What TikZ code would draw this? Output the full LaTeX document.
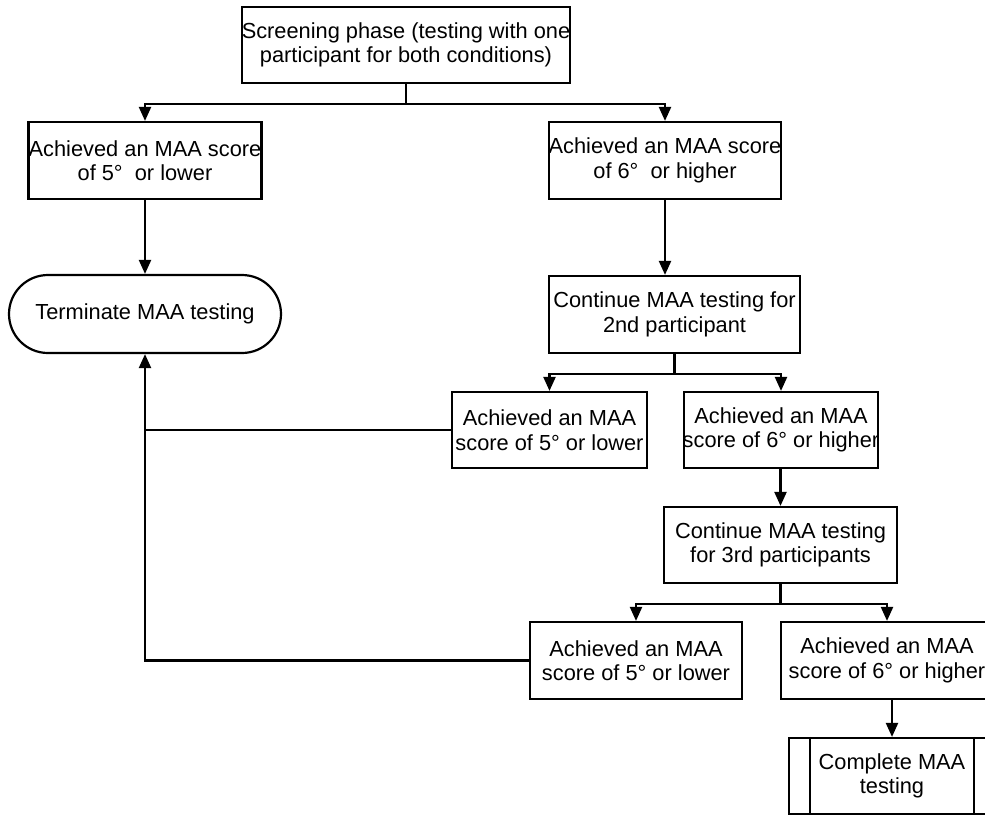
\documentclass[tikz,border=0pt]{standalone}
\usepackage{fontspec}
\setmainfont{Liberation Sans}
\usetikzlibrary{arrows.meta,shapes.misc,calc}
\begin{document}
\begin{tikzpicture}[x=1pt,y=-1pt,
  every node/.style={font=\fontsize{21.8}{24.5}\selectfont, align=center, inner sep=0pt},
  box/.style={draw, line width=2.2pt, rectangle},
  conn/.style={line width=2.2pt},
  arr/.style={conn, -{Triangle[length=14pt,width=12pt]}}]
\useasboundingbox (0,0) rectangle (985,815);
\fill[white] (0,0) rectangle (985,815);
\node[box, minimum width=328pt, minimum height=76pt] (scr) at (406,45) {Screening phase (testing with one\\participant for both conditions)};
\node[box, minimum width=233pt, minimum height=77pt] (a1) at (145,160.5) {Achieved an MAA score\\of 5°\ \ or lower};
\node[box, minimum width=232pt, minimum height=77pt] (b1) at (665,160.5) {Achieved an MAA score\\of 6°\ \ or higher};
\node[draw, line width=2.2pt, rounded rectangle, minimum width=272pt, minimum height=78pt] (term) at (145,314) {Terminate MAA testing};
\node[box, minimum width=251pt, minimum height=77pt] (c2) at (674.5,314.5) {Continue MAA testing for\\2nd participant};
\node[box, minimum width=195pt, minimum height=76pt] (a2) at (549.5,430) {Achieved an MAA\\score of 5° or lower};
\node[box, minimum width=194pt, minimum height=76pt] (b2) at (781,430) {Achieved an MAA\\\makebox[180pt][c]{score of 6° or higher}};
\node[box, minimum width=233pt, minimum height=76pt] (c3) at (780.5,545) {Continue MAA testing\\for 3rd participants};
\node[box, minimum width=212pt, minimum height=77pt] (a3) at (636,660.5) {Achieved an MAA\\score of 5° or lower};
\node[box, minimum width=212pt, minimum height=77pt] (b3) at (887,660.5) {Achieved an MAA\\score of 6° or higher};
\node[box, minimum width=206pt, minimum height=76pt] (comp) at (892,776) {Complete MAA\\testing};
\draw[conn] ($(comp.north west)+(22,0)$) -- ($(comp.south west)+(22,0)$);
\draw[conn] ($(comp.north east)+(-22,0)$) -- ($(comp.south east)+(-22,0)$);
% connectors
\draw[conn] (scr.south) -- ++(0,20) coordinate (j1);
\draw[arr] (j1) -| (a1.north);
\draw[arr] (j1) -| (b1.north);
\draw[arr] (a1.south) -- (a1.south |- term.north);
\draw[arr] (b1.south) -- (b1.south |- c2.north);
\draw[conn] (c2.south) -- ++(0,20) coordinate (j2);
\draw[arr] (j2) -| (a2.north);
\draw[arr] (j2) -| (b2.north);
\draw[arr] (c3.north |- b2.south) -- (c3.north);
\draw[conn] (c3.south) -- ++(0,20) coordinate (j3);
\draw[arr] (j3) -| (a3.north);
\draw[arr] (j3) -| (b3.north);
\draw[arr] (comp.north |- b3.south) -- (comp.north);
\coordinate (fb) at (a3.west -| term.south);
\draw[arr] (a3.west) -- (fb) -- (term.south);
\draw[conn] (a2.west) -- (a2.west -| term.south);
\end{tikzpicture}
\end{document}
